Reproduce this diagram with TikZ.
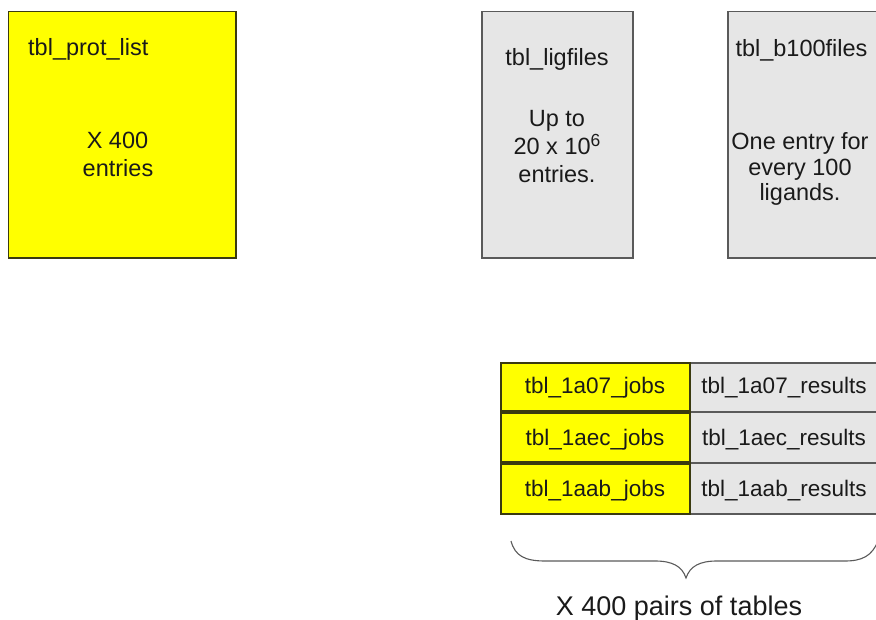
\documentclass[tikz,border=0pt]{standalone}
\usepackage{fontspec}
\setmainfont{Liberation Sans}
\definecolor{tblyellow}{HTML}{FFFF00}
\definecolor{tblgray}{HTML}{E6E6E6}
\definecolor{yedge}{HTML}{3A3A10}
\definecolor{gedge}{HTML}{5A5A5A}
\definecolor{ink}{HTML}{1A1A1A}
\tikzset{
  ybox/.style={draw=yedge, fill=tblyellow, line width=1.1pt},
  gbox/.style={draw=gedge, fill=tblgray, line width=1.1pt},
  big/.style={text=ink, font=\fontsize{23.5}{28}\selectfont, inner sep=0pt, anchor=base},
  cell/.style={text=ink, font=\fontsize{22.5}{26}\selectfont, inner sep=0pt, anchor=base},
  caption/.style={text=ink, font=\fontsize{27}{32}\selectfont, inner sep=0pt, anchor=base},
}
\newcommand{\supsix}{\raisebox{8.5pt}{\fontsize{17.5}{17.5}\selectfont 6}}
\begin{document}
\begin{tikzpicture}[x=1pt, y=-1pt]
  \useasboundingbox (0,0) rectangle (876,620);

  % protein list table
  \draw[ybox] (8.5,11.5) rectangle (236,258);
  \node[big, anchor=base west] (protname) at (28,55.5) {tbl\_prot\_list};
  \node[big] (protA) at (117.5,149) {X 400};
  \node[big] (protB) at (118,176.5) {entries};

  % ligand files table
  \draw[gbox] (482,11.5) rectangle (633,258);
  \node[big] (ligname) at (557,65.5) {tbl\_ligfiles};
  \node[big] (ligA) at (557,127) {Up to};
  \node[big] (ligB) at (557,155) {20 x 10\supsix};
  \node[big] (ligC) at (557,183) {entries.};

  % batch files table
  \draw[gbox] (728,11.5) rectangle (880,258);
  \node[big] (bname) at (801.5,57) {tbl\_b100files};
  \node[big] (bA) at (800,150) {One entry for};
  \node[big] (bB) at (800,175.5) {every 100};
  \node[big] (bC) at (800,201) {ligands.};

  % per-protein job / result tables
  \draw[gbox] (690,363) rectangle (880,412);
  \draw[gbox] (690,412) rectangle (880,463);
  \draw[gbox] (690,463) rectangle (880,514);
  \draw[ybox] (501,363) rectangle (690,411);
  \draw[ybox] (501,413) rectangle (690,462);
  \draw[ybox] (501,464) rectangle (690,514);

  \node[cell] (j1) at (595,394) {tbl\_1a07\_jobs};
  \node[cell] (j2) at (595,445) {tbl\_1aec\_jobs};
  \node[cell] (j3) at (595,496) {tbl\_1aab\_jobs};
  \node[cell] (r1) at (784,394) {tbl\_1a07\_results};
  \node[cell] (r2) at (784,445) {tbl\_1aec\_results};
  \node[cell] (r3) at (784,496) {tbl\_1aab\_results};

  % brace under the pairs
  \draw[gedge, line width=1.1pt]
    (511,541) .. controls (515,556) and (525,561) .. (545,561)
    -- (655,561) .. controls (672,561) and (682,566) .. (686,578)
    .. controls (690,566) and (700,561) .. (717,561)
    -- (845,561) .. controls (862,561) and (872,556) .. (878,541);
  \node[caption] (pairs) at (679,615) {X 400 pairs of tables};
\end{tikzpicture}
\end{document}
